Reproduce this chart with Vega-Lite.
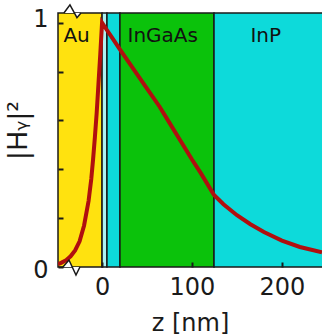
{
  "$schema": "https://vega.github.io/schema/vega-lite/v6.json",
  "width": 264,
  "height": 254,
  "autosize": {"type": "none"},
  "padding": {"left": 58, "top": 13, "right": 0, "bottom": 68},
  "background": "white",
  "config": {"font": "DejaVu Sans", "view": {"stroke": null}},
  "datasets": {
    "layers": [
      {"layer": "Au", "z0": -49, "z1": 0},
      {"layer": "gap", "z0": 0, "z1": 5.45},
      {"layer": "InP1", "z0": 5.45, "z1": 19.9},
      {"layer": "InGaAs", "z0": 19.9, "z1": 124.5},
      {"layer": "InP2", "z0": 124.5, "z1": 252}
    ],
    "field": [
      {"z": -49, "h": 0.012},
      {"z": -45, "h": 0.018},
      {"z": -40, "h": 0.028},
      {"z": -35, "h": 0.044},
      {"z": -30, "h": 0.068},
      {"z": -25, "h": 0.105},
      {"z": -20, "h": 0.17},
      {"z": -15, "h": 0.27},
      {"z": -12, "h": 0.36},
      {"z": -10, "h": 0.44},
      {"z": -8, "h": 0.53},
      {"z": -6, "h": 0.63},
      {"z": -4, "h": 0.75},
      {"z": -2, "h": 0.87},
      {"z": 0, "h": 1.0},
      {"z": 5, "h": 0.972},
      {"z": 10, "h": 0.945},
      {"z": 20, "h": 0.89},
      {"z": 30, "h": 0.836},
      {"z": 40, "h": 0.783},
      {"z": 50, "h": 0.73},
      {"z": 64, "h": 0.656},
      {"z": 75, "h": 0.59},
      {"z": 86.7, "h": 0.52},
      {"z": 100, "h": 0.44},
      {"z": 110, "h": 0.383},
      {"z": 124.5, "h": 0.295},
      {"z": 135, "h": 0.257},
      {"z": 150, "h": 0.212},
      {"z": 165, "h": 0.175},
      {"z": 180, "h": 0.143},
      {"z": 200, "h": 0.108},
      {"z": 220, "h": 0.082},
      {"z": 244.6, "h": 0.06}
    ],
    "labels": [
      {"name": "Au", "z": -28.3, "h": 0.92},
      {"name": "InGaAs", "z": 67.5, "h": 0.92},
      {"name": "InP", "z": 182, "h": 0.92}
    ],
    "breakTop": [
      {"z": -42.4, "h": 1.0396, "e": 1.0396},
      {"z": -35.7, "h": 1.073, "e": 1.0396},
      {"z": -27.9, "h": 1.0204, "e": 1.0396},
      {"z": -23.5, "h": 1.0396, "e": 1.0396}
    ],
    "breakBottom": [
      {"z": -43.5, "h": 0, "e": 0},
      {"z": -36.8, "h": 0.0286, "e": 0},
      {"z": -29.0, "h": -0.0327, "e": 0},
      {"z": -24.6, "h": 0, "e": 0}
    ]
  },
  "layer": [
    {
      "data": {"name": "layers"},
      "mark": {"type": "rect", "stroke": "#1a1a1a", "strokeWidth": 1.5},
      "encoding": {
        "x": {
          "field": "z", "type": "quantitative",
          "scale": {"domain": [-49, 244.6], "nice": false, "zero": false},
          "axis": {
            "values": [0, 100, 200],
            "domain": false, "grid": false, "zindex": 1, "labelFlush": false,
            "tickSize": -5, "tickWidth": 2, "tickColor": "#1a1a1a",
            "labelFontSize": 24, "labelColor": "#1a1a1a", "labelPadding": 13,
            "title": "z [nm]", "titleFontSize": 24, "titleFontWeight": "normal", "titleColor": "#1a1a1a", "titlePadding": 12
          }
        },
        "x2": {"field": "z1"},
        "y": {
          "datum": 0, "type": "quantitative",
          "scale": {"domain": [0, 1.0396], "nice": false, "zero": false},
          "axis": {
            "values": [0, 0.2, 0.4, 0.6, 0.8, 1],
            "labelExpr": "datum.value == 0 ? '0' : (datum.value == 1 ? '1' : '')",
            "labelBaseline": {"condition": {"test": "datum.value == 1", "value": "line-bottom"}, "value": "line-top"},
            "labelAlign": "right",
            "labelLineHeight": 6,
            "domain": false, "grid": false, "zindex": 1, "labelFlush": false,
            "tickSize": -5, "tickWidth": 2, "tickColor": "#1a1a1a",
            "labelFontSize": 24, "labelColor": "#1a1a1a", "labelPadding": 15,
            "title": "|Hᵧ|²", "titleFontSize": 27, "titleFontWeight": "normal", "titleColor": "#1a1a1a", "titlePadding": 0, "titleY": 117
          }
        },
        "y2": {"datum": 1.0396},
        "fill": {
          "field": "layer", "type": "nominal",
          "scale": {"domain": ["Au", "gap", "InP1", "InGaAs", "InP2"], "range": ["#ffe20f", "#aef3f3", "#0ddada", "#0bc20b", "#0ddada"]},
          "legend": null
        }
      },
      "transform": [{"calculate": "datum.z0", "as": "z"}]
    },
    {
      "data": {"name": "field"},
      "mark": {"type": "line", "color": "#b00f0f", "strokeWidth": 4, "clip": true},
      "encoding": {
        "x": {"field": "z", "type": "quantitative"},
        "y": {"field": "h", "type": "quantitative"}
      }
    },
    {
      "data": {"name": "labels"},
      "mark": {"type": "text", "fontSize": 20, "color": "#111111", "baseline": "alphabetic", "align": "center"},
      "encoding": {
        "x": {"field": "z", "type": "quantitative"},
        "y": {"field": "h", "type": "quantitative"},
        "text": {"field": "name"}
      }
    },
    {
      "data": {"name": "breakTop"},
      "mark": {"type": "area", "color": "white", "clip": false},
      "encoding": {
        "x": {"field": "z", "type": "quantitative"},
        "y": {"field": "h", "type": "quantitative"},
        "y2": {"field": "e"}
      }
    },
    {
      "data": {"name": "breakTop"},
      "mark": {"type": "line", "color": "#1a1a1a", "strokeWidth": 1.5, "clip": false},
      "encoding": {
        "x": {"field": "z", "type": "quantitative"},
        "y": {"field": "h", "type": "quantitative"}
      }
    },
    {
      "data": {"name": "breakBottom"},
      "mark": {"type": "area", "color": "white", "clip": false},
      "encoding": {
        "x": {"field": "z", "type": "quantitative"},
        "y": {"field": "h", "type": "quantitative"},
        "y2": {"field": "e"}
      }
    },
    {
      "data": {"name": "breakBottom"},
      "mark": {"type": "line", "color": "#1a1a1a", "strokeWidth": 1.5, "clip": false},
      "encoding": {
        "x": {"field": "z", "type": "quantitative"},
        "y": {"field": "h", "type": "quantitative"}
      }
    }
  ]
}
